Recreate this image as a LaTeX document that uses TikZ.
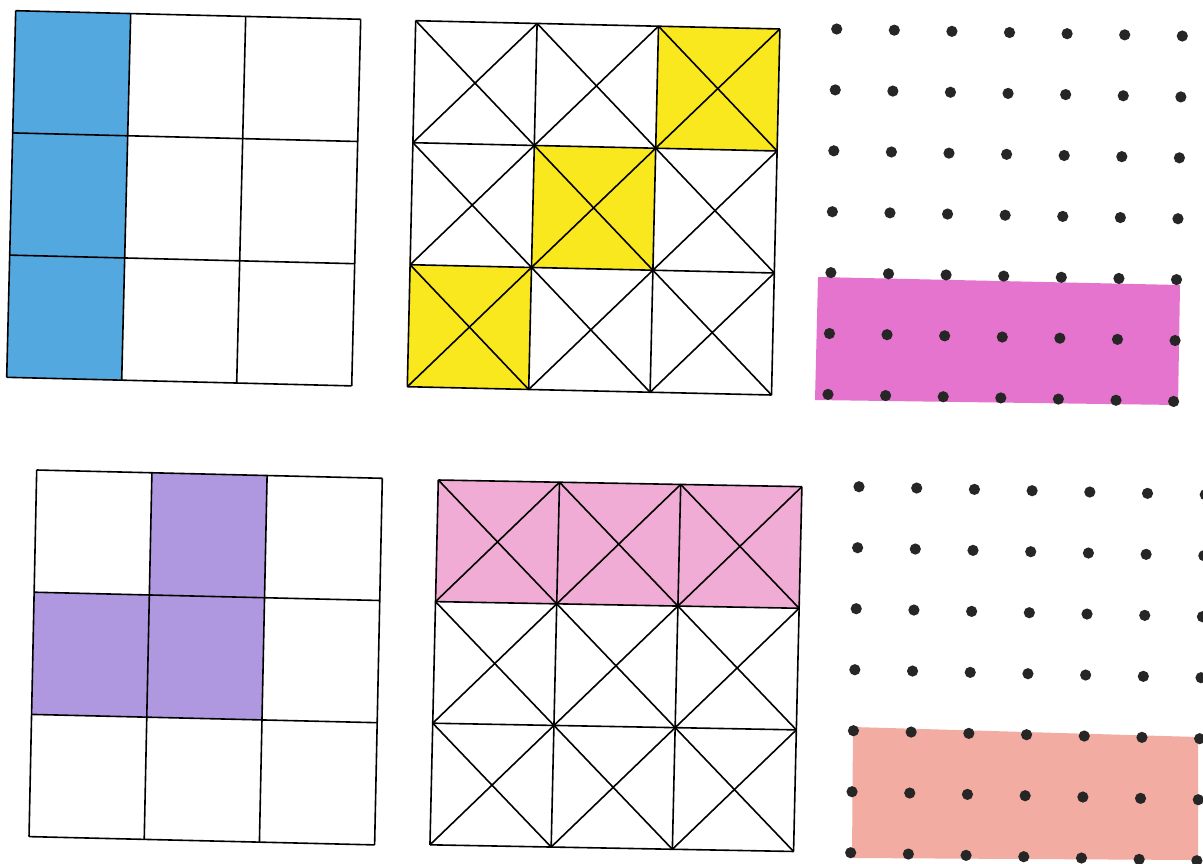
\documentclass[tikz,border=0pt]{standalone}
\usepackage{tikz}
\usetikzlibrary{calc}
\definecolor{crayonblue}{RGB}{84,168,224}
\definecolor{crayonyellow}{RGB}{250,232,30}
\definecolor{crayonmagenta}{RGB}{228,116,206}
\definecolor{crayonpurple}{RGB}{176,152,224}
\definecolor{crayonpink}{RGB}{240,172,212}
\definecolor{crayonsalmon}{RGB}{242,172,162}
\tikzset{
  sheet/.style n args={6}{shift={(#1,#2)}, x={(#3pt,#4pt)}, y={(#5pt,#6pt)}},
  gridline/.style={draw=black, line width=0.8pt},
  peg/.style={fill=black!85},
  crayon/.style={fill=#1},
}
\begin{document}
\begin{tikzpicture}[x=0.5pt, y=-0.5pt]
  \clip (0,0) rectangle (1203,863);
  \fill[white] (0,0) rectangle (1203,863);
  %% Top left: plain 3x3 grid, first column coloured
  \begin{scope}[sheet={15.7}{10.7}{57.5}{-1.43}{-1.5}{-61.1}]
    \fill[crayon=crayonblue] (0,0) -- (1,0) -- (1,3) -- (0,3) -- cycle;
    \foreach \i in {0,...,3} {
      \draw[gridline] (\i,0) -- (\i,3);
      \draw[gridline] (0,\i) -- (3,\i);
    }
  \end{scope}
  %% Top middle: crossed grid, diagonal of squares coloured
  \begin{scope}[sheet={415.7}{20.7}{60.7}{-1.38}{-1.4}{-61}]
    \foreach \c/\r in {2/0,1/1,0/2}
      \fill[crayon=crayonyellow] (\c,\r) -- ++(1,0) -- ++(0,1) -- ++(-1,0) -- cycle;
    \foreach \i in {0,...,3} {
      \draw[gridline] (\i,0) -- (\i,3);
      \draw[gridline] (0,\i) -- (3,\i);
    }
    \foreach \i in {0,1,2}
      \foreach \j in {0,1,2} {
        \draw[gridline] (\i,\j) -- ++(1,1);
        \draw[gridline] (\i+1,\j) -- ++(-1,1);
      }
  \end{scope}
  %% Top right: dot paper with a 6x2 rectangle
  \fill[crayon=crayonmagenta] (818,277) -- (1180,285) -- (1178,405) -- (815,400) -- cycle;
  \begin{scope}[sheet={836.7}{29}{28.8}{-0.585}{-0.725}{-30.45}]
    \foreach \i in {0,...,6}
      \foreach \j in {0,...,6}
        \fill[peg] (\i,\j) circle[radius=2.8pt];
  \end{scope}
  %% Bottom left: plain 3x3 grid, L of three squares
  \begin{scope}[sheet={36.7}{470}{57.6}{-1.38}{-1.28}{-61.1}]
    \foreach \c/\r in {1/0,0/1,1/1}
      \fill[crayon=crayonpurple] (\c,\r) -- ++(1,0) -- ++(0,1) -- ++(-1,0) -- cycle;
    \foreach \i in {0,...,3} {
      \draw[gridline] (\i,0) -- (\i,3);
      \draw[gridline] (0,\i) -- (3,\i);
    }
  \end{scope}
  %% Bottom middle: crossed grid, top row coloured
  \begin{scope}[sheet={438.3}{480}{60.6}{-1.11}{-1.39}{-60.8}]
    \fill[crayon=crayonpink] (0,0) -- (3,0) -- (3,1) -- (0,1) -- cycle;
    \foreach \i in {0,...,3} {
      \draw[gridline] (\i,0) -- (\i,3);
      \draw[gridline] (0,\i) -- (3,\i);
    }
    \foreach \i in {0,1,2}
      \foreach \j in {0,1,2} {
        \draw[gridline] (\i,\j) -- ++(1,1);
        \draw[gridline] (\i+1,\j) -- ++(-1,1);
      }
  \end{scope}
  %% Bottom right: dot paper with a 6x2 rectangle
  \fill[crayon=crayonsalmon] (853,727) -- (1198,737) -- (1198,860) -- (852,858) -- cycle;
  \begin{scope}[sheet={859}{486.7}{28.85}{-0.665}{-0.695}{-30.5}]
    \foreach \i in {0,...,6}
      \foreach \j in {0,...,6}
        \fill[peg] (\i,\j) circle[radius=2.8pt];
  \end{scope}
\end{tikzpicture}
\end{document}
